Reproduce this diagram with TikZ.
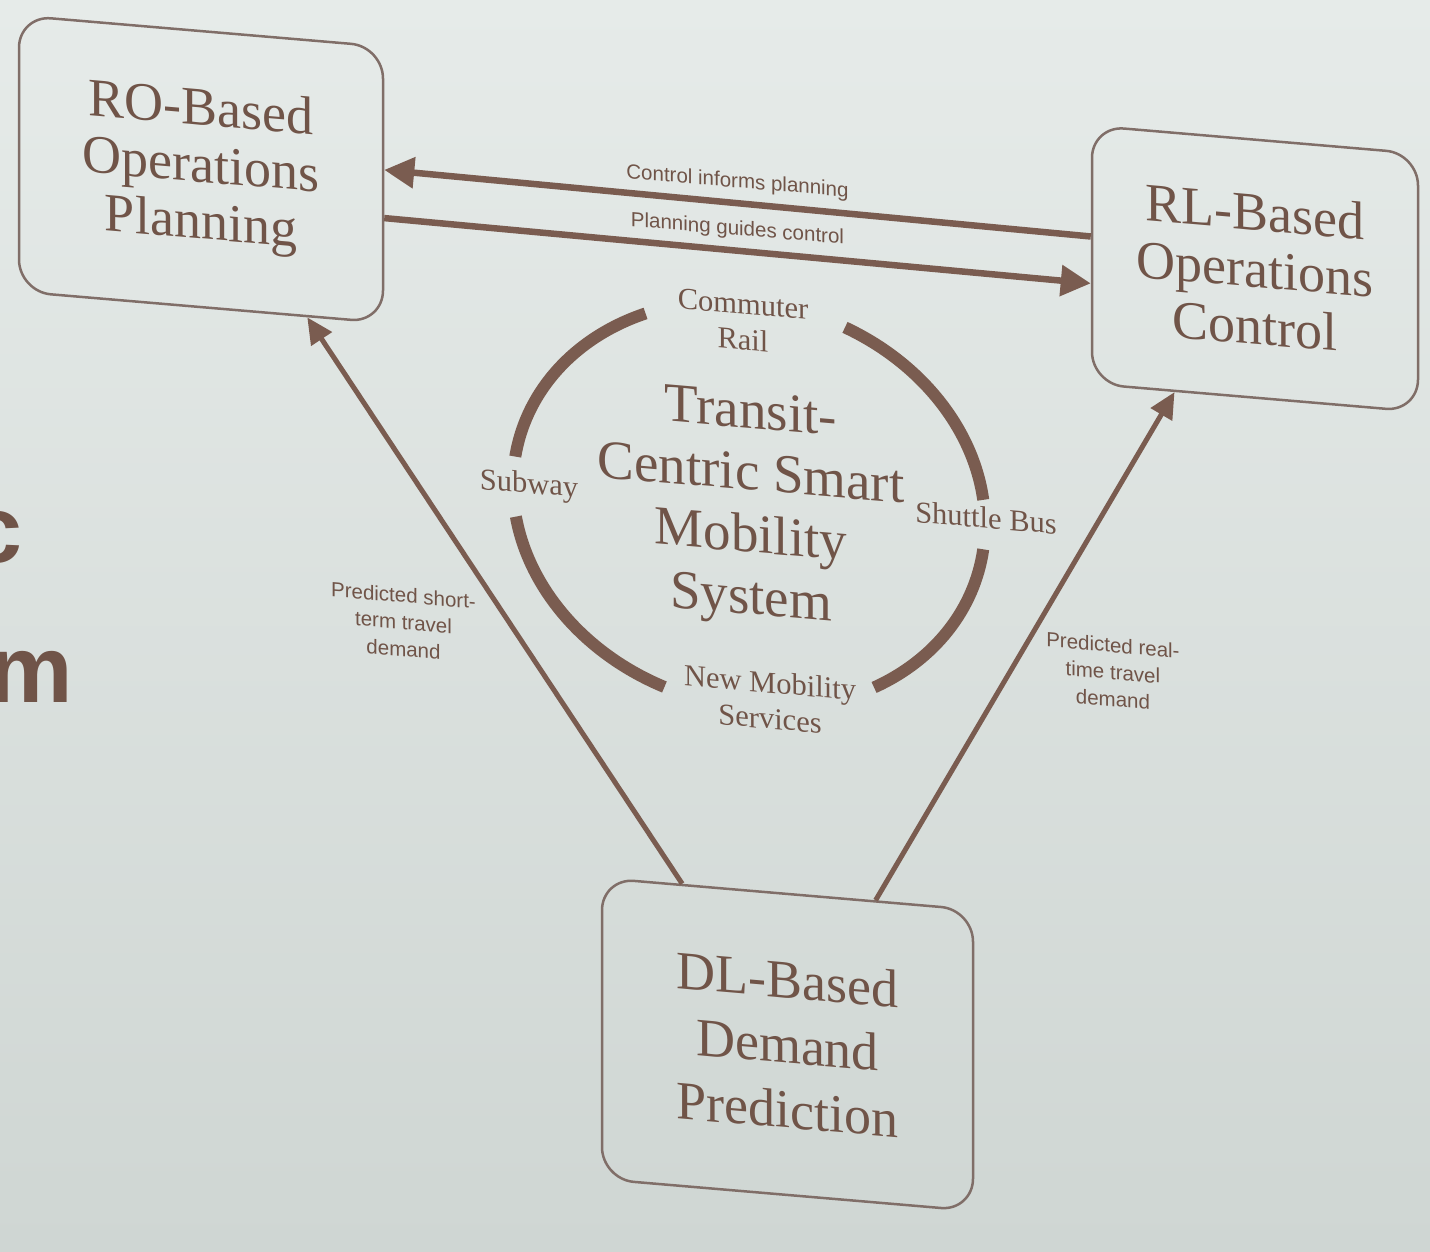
\documentclass[tikz,border=0pt]{standalone}
\usepackage{fontspec}
\setmainfont{Liberation Serif}
\newfontfamily\lblfont{Liberation Sans}
\usetikzlibrary{arrows.meta,calc}
\definecolor{bgtop}{RGB}{230,235,233}
\definecolor{bgbot}{RGB}{207,214,211}
\definecolor{ink}{RGB}{112,84,72}
\definecolor{arrowc}{RGB}{122,92,80}
\definecolor{boxc}{RGB}{128,110,104}
\begin{document}
\begin{tikzpicture}[x=1pt,y=-1pt,
  box/.style={draw=boxc, line width=2.5pt, rounded corners=32pt, inner sep=0pt, text=ink, align=center},
  bigtext/.style={font=\fontsize{54}{57}\selectfont},
  ring/.style={draw=arrowc, line width=12pt, line cap=butt},
  conn/.style={draw=arrowc, line width=6.5pt, -{Triangle[length=30pt,width=30pt]}},
  diag/.style={draw=arrowc, line width=5pt, -{Triangle[length=26pt,width=24pt]}},
  lbl/.style={font=\lblfont\fontsize{20.5}{27}\selectfont, text=ink, inner sep=0pt, align=center},
  circlbl/.style={font=\fontsize{30.5}{36}\selectfont, text=ink, inner sep=0pt, align=center},
  partial/.style={font=\lblfont\bfseries\fontsize{95}{95}\selectfont, text=ink, inner sep=0pt, anchor=base east}
]
\useasboundingbox (0,0) rectangle (1430,1252);
\shade[top color=bgtop, bottom color=bgbot] (0,0) rectangle (1430,1252);

\node[partial] (cpart) at (23,562) {c};
\node[partial] (mpart) at (73,702) {m};

\begin{scope}[cm={1,-0.085,0,1,(0pt,0pt)}, transform shape]
  \node[box, bigtext, minimum width=364pt, minimum height=276pt] (ro) at (201,152) {RO-Based\\Operations\\Planning};
  \node[box, bigtext, minimum width=326pt, minimum height=258pt] (rl) at (1255,162) {RL-Based\\Operations\\Control};
  \node[box, font=\fontsize{54}{65}\selectfont, minimum width=371pt, minimum height=301pt] (dl) at (787.5,977.5) {DL-Based\\Demand\\Prediction};

  \coordinate (c) at (749,441);
  \node[font=\fontsize{55}{62}\selectfont, text=ink, align=center, inner sep=0pt] (tcsm) at (751,445) {Transit-\\Centric Smart\\Mobility\\System};

  \draw[ring] (c) ++(-7:236 and 203) arc[start angle=-7, end angle=-66, x radius=236, y radius=203];
  \draw[ring] (c) ++(-116:236 and 203) arc[start angle=-116, end angle=-172, x radius=236, y radius=203];
  \draw[ring] (c) ++(-189:236 and 203) arc[start angle=-189, end angle=-249, x radius=236, y radius=203];
  \draw[ring] (c) ++(-302:236 and 203) arc[start angle=-302, end angle=-353, x radius=236, y radius=203];

  \node[circlbl] (cr) at (743,259) {Commuter\\Rail};
  \node[circlbl] (sub) at (529,441) {Subway};
  \node[circlbl] (sb) at (986,434) {Shuttle Bus};
  \node[circlbl] (nms) at (770,635) {New Mobility\\Services};

  \draw[conn] ($(rl.north west)!0.43!(rl.south west)$) -- node[lbl, above=8pt] (l1) {Control informs planning} ($(ro.north east)!0.447!(ro.south east)$);
  \draw[conn] ($(ro.north east)!0.62!(ro.south east)$) -- node[lbl, above=8pt] (l2) {Planning guides control} ($(rl.north west)!0.61!(rl.south west)$);

  \draw[diag] ($(dl.north west)!0.218!(dl.north east)$) -- node[lbl, pos=0.445, anchor=east, xshift=-37pt] (l3) {Predicted short-\\term travel\\demand} ($(ro.south west)!0.79!(ro.south east)$);
  \draw[diag] ($(dl.north west)!0.736!(dl.north east)$) -- node[lbl, pos=0.4655, anchor=west, xshift=29pt] (l4) {Predicted real-\\time travel\\demand} ($(rl.south west)!0.255!(rl.south east)$);
\end{scope}
\end{tikzpicture}
\end{document}
